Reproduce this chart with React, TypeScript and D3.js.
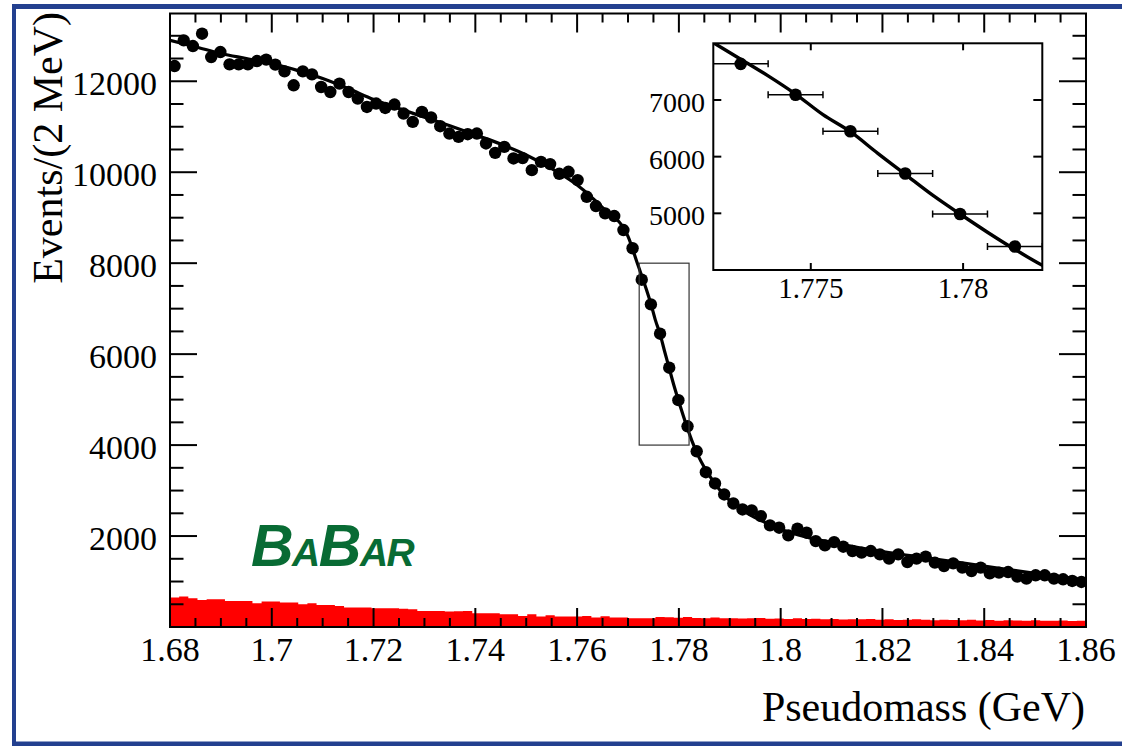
import React from 'react';
import * as d3 from 'd3';

const W = 1122;
const H = 746;

// Histogram binning (GeV)
const X_MIN = 1.68;
const X_MAX = 1.86;
const BIN_W = 0.0018;

// Data points: events per bin (100 bins)
const dataCounts = [
  12335, 12899, 12774, 13046, 12533, 12642, 12372, 12372, 12372, 12445,
  12475, 12365, 12218, 11911, 12218, 12152, 11874, 11764, 11949, 11764,
  11619, 11435, 11510, 11413, 11488, 11290, 11106, 11326, 11203, 11012,
  10851, 10777, 10836, 10851, 10632, 10426, 10557, 10303, 10310, 10046,
  10228, 10178, 9965, 10009, 9827, 9460, 9256, 9096, 9037, 8729,
  8328, 7637, 7093, 6449, 5702, 4988, 4414, 3864, 3404, 3156,
  2914, 2717, 2585, 2563, 2438, 2234, 2183, 2015, 2161, 2074,
  1889, 1795, 1867, 1766, 1670, 1635, 1670, 1598, 1503, 1598,
  1429, 1503, 1547, 1415, 1341, 1400, 1306, 1231, 1306, 1181,
  1196, 1209, 1108, 1064, 1137, 1137, 1064, 1049, 1012, 990,
];

// Background (red) histogram, events per bin
const bkgCounts = [
  650, 669, 632, 595, 610, 610, 573, 573, 573, 522,
  559, 559, 537, 537, 500, 522, 485, 485, 463, 428,
  428, 428, 412, 412, 412, 400, 390, 353, 353, 353,
  340, 345, 353, 303, 303, 300, 281, 281, 244, 281,
  230, 259, 230, 230, 230, 244, 208, 237, 208, 208,
  193, 193, 193, 222, 215, 205, 220, 200, 195, 210,
  190, 195, 185, 190, 200, 180, 185, 178, 190, 175,
  182, 170, 178, 165, 172, 168, 175, 160, 168, 155,
  162, 170, 158, 150, 160, 155, 148, 158, 145, 152,
  140, 150, 145, 138, 148, 140, 135, 142, 132, 138,
];

// Fit curve
const fitX = [
  1.680, 1.685, 1.690, 1.695, 1.700, 1.705, 1.710, 1.715, 1.720, 1.725,
  1.730, 1.735, 1.740, 1.745, 1.750, 1.755, 1.760, 1.765, 1.770, 1.7718,
  1.7727, 1.7736, 1.7745, 1.7754, 1.7763, 1.7772, 1.7781, 1.7790, 1.7799, 1.7808,
  1.7817, 1.7826, 1.7840, 1.7860, 1.7880, 1.7900, 1.7930, 1.7960, 1.8000, 1.8050,
  1.8100, 1.8150, 1.8200, 1.8300, 1.8400, 1.8500, 1.8600,
];
const fitY = [
  12900, 12760, 12610, 12500, 12390, 12240, 12060, 11840, 11600, 11400,
  11210, 11020, 10820, 10620, 10380, 10080, 9720, 9220, 8590, 8010,
  7720, 7426, 7105, 6742, 6440, 6058, 5689, 5321, 4988, 4667,
  4363, 4082, 3720, 3330, 3020, 2780, 2530, 2350, 2150, 1980,
  1860, 1750, 1660, 1500, 1340, 1180, 1030,
];

const xMajorTicks = [1.68, 1.7, 1.72, 1.74, 1.76, 1.78, 1.8, 1.82, 1.84, 1.86];
const yMajorTicks = [2000, 4000, 6000, 8000, 10000, 12000];
const insetXTicks = [1.775, 1.78];
const insetYTicks = [5000, 6000, 7000];
const insetXDomain = [1.7718, 1.7826];
const insetYDomain = [4000, 8000];
const zoomBoxX = [1.7722, 1.782];
const zoomBoxY = [4000, 8000];

const xTitle = 'Pseudomass (GeV)';
const yTitle = 'Events/(2 MeV)';

const SERIF = '"Liberation Serif", "Times New Roman", Times, serif';
const SANS = '"Liberation Sans", Arial, Helvetica, sans-serif';

const fmtX = (v: number) => String(+v.toFixed(3));

export default function App() {
  const L = 170, R = 1086, T = 13.5, B = 627;
  const x = d3.scaleLinear().domain([X_MIN, X_MAX]).range([L, R]);
  const y = d3.scaleLinear().domain([0, 13490]).range([B, T]);

  const binLo = dataCounts.map((_, i) => X_MIN + i * BIN_W);
  const binCenter = binLo.map((v) => v + BIN_W / 2);

  const xMinor = d3.range(0, 37).map((i) => X_MIN + i * 0.005);
  const yMinor = d3.range(500, 13490, 500);

  // background step area
  const bkgPts: [number, number][] = bkgCounts.map((v, i) => [binLo[i], v]);
  bkgPts.push([X_MAX, bkgCounts[bkgCounts.length - 1]]);
  const bkgArea = d3
    .area<[number, number]>()
    .x((d) => x(d[0]))
    .y0(y(0))
    .y1((d) => y(d[1]))
    .curve(d3.curveStepAfter)(bkgPts) as string;

  const fitPts: [number, number][] = fitX.map((v, i) => [v, fitY[i]]);
  const fitLine = d3
    .line<[number, number]>()
    .x((d) => x(d[0]))
    .y((d) => y(d[1]))
    .curve(d3.curveMonotoneX)(fitPts) as string;

  // inset
  const iL = 713.3, iR = 1042.3, iT = 43.3, iB = 270;
  const ix = d3.scaleLinear().domain(insetXDomain).range([iL, iR]);
  const iy = d3.scaleLinear().domain(insetYDomain).range([iB, iT]);
  const insetFit = d3
    .line<[number, number]>()
    .x((d) => ix(d[0]))
    .y((d) => iy(d[1]))
    .curve(d3.curveMonotoneX)(fitPts) as string;
  const insetIdx = binCenter
    .map((c, i) => i)
    .filter((i) => binCenter[i] > insetXDomain[0] && binCenter[i] < insetXDomain[1]);

  const blue = '#23408f';
  const green = '#086b34';

  return (
    <svg
      width={W}
      height={H}
      viewBox={`0 0 ${W} ${H}`}
      style={{ position: 'absolute', left: 0, top: 0, background: '#fff' }}
    >
      <defs>
        <clipPath id="plotClip">
          <rect x={L} y={T} width={R - L} height={B - T} />
        </clipPath>
        <clipPath id="insetClip">
          <rect x={iL} y={iT} width={iR - iL} height={iB - iT} />
        </clipPath>
      </defs>

      {/* outer blue frame */}
      <rect x={12} y={4} width={W - 12} height={5} fill={blue} />
      <rect x={12} y={4} width={4} height={742} fill={blue} />
      <rect x={12} y={741.5} width={W - 12} height={4.5} fill={blue} />

      {/* background histogram */}
      <path d={bkgArea} fill="#ff0000" clipPath="url(#plotClip)" />

      {/* frame */}
      <rect x={L} y={T} width={R - L} height={B - T} fill="none" stroke="#000" strokeWidth={2} />

      {/* x ticks */}
      {xMinor.map((v, i) => {
        const major = xMajorTicks.some((m) => Math.abs(m - v) < 1e-6);
        const len = major ? 19 : 9;
        return (
          <g key={'xt' + i}>
            <line x1={x(v)} x2={x(v)} y1={B} y2={B - len} stroke="#000" strokeWidth={2} />
            <line x1={x(v)} x2={x(v)} y1={T} y2={T + len} stroke="#000" strokeWidth={2} />
          </g>
        );
      })}
      {/* y ticks */}
      {yMinor.map((v, i) => {
        const major = yMajorTicks.includes(v);
        const len = major ? 27 : 13.5;
        return (
          <g key={'yt' + i}>
            <line x1={L} x2={L + len} y1={y(v)} y2={y(v)} stroke="#000" strokeWidth={2} />
            <line x1={R} x2={R - len} y1={y(v)} y2={y(v)} stroke="#000" strokeWidth={2} />
          </g>
        );
      })}

      {/* tick labels */}
      {xMajorTicks.map((v) => (
        <text key={'xl' + v} x={x(v)} y={661} textAnchor="middle" fontFamily={SERIF} fontSize={34}>
          {fmtX(v)}
        </text>
      ))}
      {yMajorTicks.map((v) => (
        <text key={'yl' + v} x={157} y={y(v) + 14} textAnchor="end" fontFamily={SERIF} fontSize={34}>
          {v}
        </text>
      ))}

      {/* axis titles */}
      <text x={1085} y={721} textAnchor="end" fontFamily={SERIF} fontSize={42}>
        {xTitle}
      </text>
      <text
        transform="translate(62,12) rotate(-90)"
        textAnchor="end"
        fontFamily={SERIF}
        fontSize={42}
      >
        {yTitle}
      </text>

      {/* data points */}
      <g clipPath="url(#plotClip)">
        {dataCounts.map((v, i) => (
          <circle key={'p' + i} cx={x(binCenter[i])} cy={y(v)} r={6.2} fill="#000" />
        ))}
        <path d={fitLine} fill="none" stroke="#000" strokeWidth={3.2} />
      </g>

      {/* zoom box */}
      <rect
        x={x(zoomBoxX[0])}
        y={y(zoomBoxY[1])}
        width={x(zoomBoxX[1]) - x(zoomBoxX[0])}
        height={y(zoomBoxY[0]) - y(zoomBoxY[1])}
        fill="none"
        stroke="#333"
        strokeWidth={1.2}
      />

      {/* inset */}
      <rect x={iL} y={iT} width={iR - iL} height={iB - iT} fill="#fff" />
      <g clipPath="url(#insetClip)">
        <path d={insetFit} fill="none" stroke="#000" strokeWidth={3.4} />
        {insetIdx.map((i) => {
          const lo = ix(binLo[i]);
          const hi = ix(binLo[i] + BIN_W);
          const cy = iy(dataCounts[i]);
          return (
            <g key={'ip' + i}>
              <line x1={lo} x2={hi} y1={cy} y2={cy} stroke="#000" strokeWidth={1.5} />
              <line x1={lo} x2={lo} y1={cy - 3.5} y2={cy + 3.5} stroke="#000" strokeWidth={1.5} />
              <line x1={hi} x2={hi} y1={cy - 3.5} y2={cy + 3.5} stroke="#000" strokeWidth={1.5} />
              <circle cx={ix(binCenter[i])} cy={cy} r={6.3} fill="#000" />
            </g>
          );
        })}
      </g>
      <rect x={iL} y={iT} width={iR - iL} height={iB - iT} fill="none" stroke="#000" strokeWidth={2} />
      {insetXTicks.map((v) => (
        <g key={'ixt' + v}>
          <line x1={ix(v)} x2={ix(v)} y1={iB} y2={iB - 7} stroke="#000" strokeWidth={2} />
          <line x1={ix(v)} x2={ix(v)} y1={iT} y2={iT + 7} stroke="#000" strokeWidth={2} />
          <text x={ix(v)} y={298} textAnchor="middle" fontFamily={SERIF} fontSize={29}>
            {fmtX(v)}
          </text>
        </g>
      ))}
      {insetYTicks.map((v) => (
        <g key={'iyt' + v}>
          <line x1={iL} x2={iL + 8} y1={iy(v)} y2={iy(v)} stroke="#000" strokeWidth={2} />
          <line x1={iR} x2={iR - 9} y1={iy(v)} y2={iy(v)} stroke="#000" strokeWidth={2} />
          <text x={705} y={iy(v) + 12} textAnchor="end" fontFamily={SERIF} fontSize={28}>
            {v}
          </text>
        </g>
      ))}

      {/* BaBar logo */}
      <text
        x={251}
        y={566}
        fill={green}
        fontFamily={SANS}
        fontWeight="bold"
        fontStyle="italic"
        letterSpacing={-1.5}
      >
        <tspan fontSize={59}>B</tspan>
        <tspan fontSize={39}>A</tspan>
        <tspan fontSize={59}>B</tspan>
        <tspan fontSize={39}>AR</tspan>
      </text>
    </svg>
  );
}
